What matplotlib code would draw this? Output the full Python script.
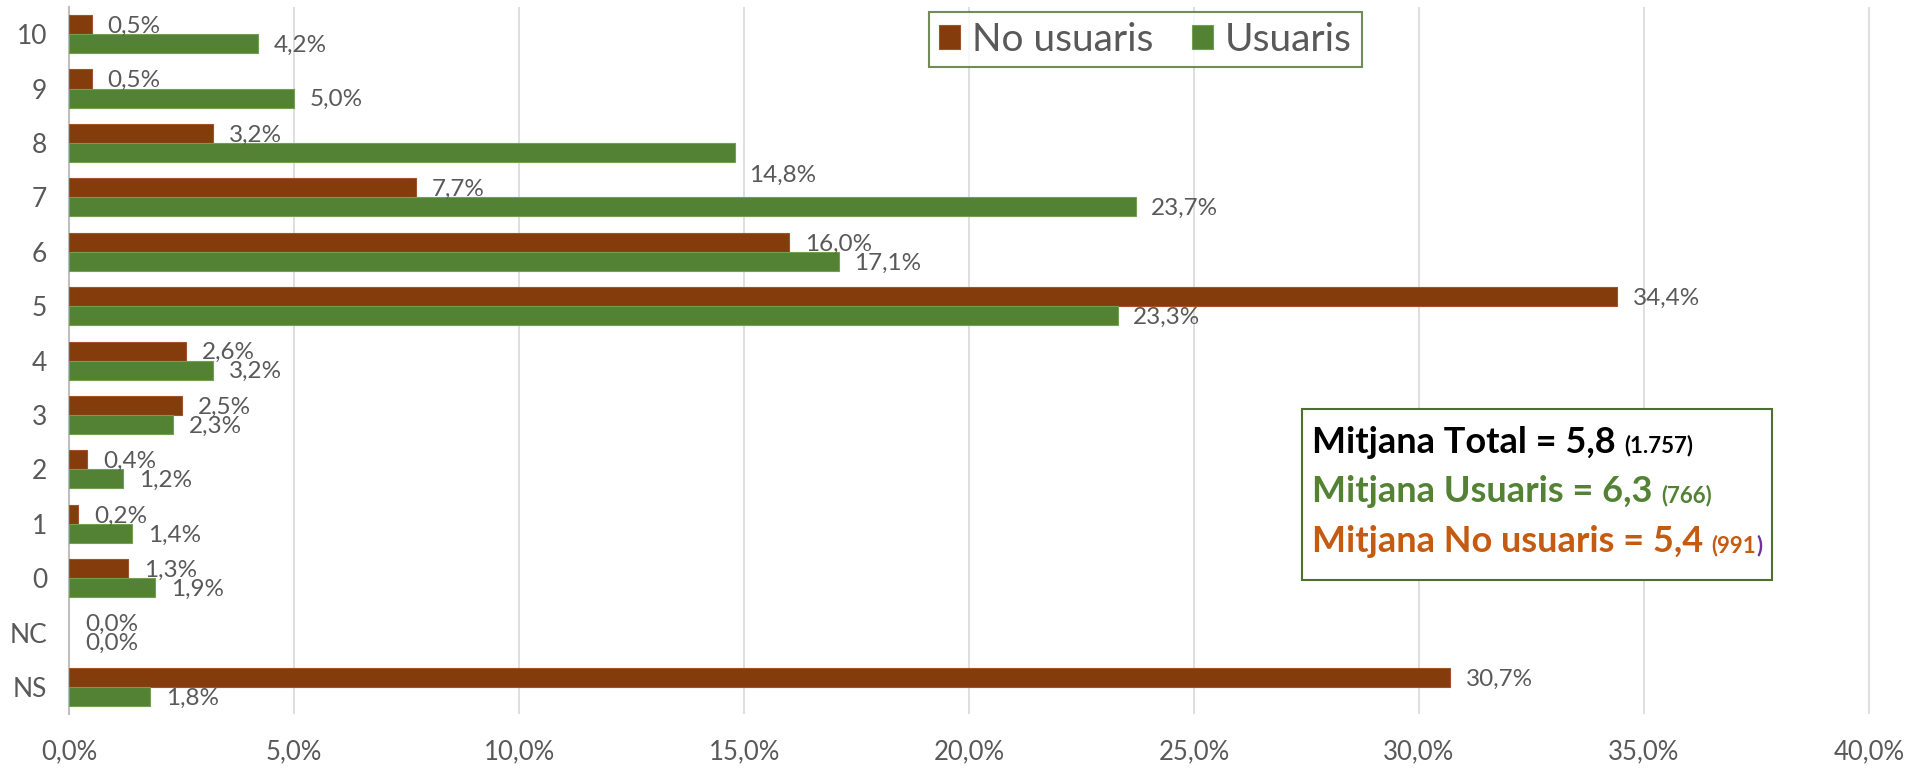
import numpy as np
import matplotlib.pyplot as plt
from matplotlib.offsetbox import TextArea, HPacker, VPacker, AnchoredOffsetbox, DrawingArea

categories = ['10', '9', '8', '7', '6', '5', '4', '3', '2', '1', '0', 'NC', 'NS']
no_usuaris = [0.5, 0.5, 3.2, 7.7, 16.0, 34.4, 2.6, 2.5, 0.4, 0.2, 1.3, 0.0, 30.7]
usuaris = [4.2, 5.0, 14.8, 23.7, 17.1, 23.3, 3.2, 2.3, 1.2, 1.4, 1.9, 0.0, 1.8]
x_ticks = [0, 5, 10, 15, 20, 25, 30, 35, 40]

mean_lines = [
    ('Mitjana Total = 5,8 ', '(1.757)', 'black'),
    ('Mitjana Usuaris = 6,3 ', '(766)', '#548235'),
    ('Mitjana No usuaris = 5,4 ', '(991', '#C55A11'),
]

brown = '#843C0C'
green = '#548235'
grey_txt = '#595959'

plt.rcParams['font.family'] = ['Lato', 'DejaVu Sans']

fig = plt.figure(figsize=(19.26, 7.68), dpi=100)
ax = fig.add_axes([0.036, 0.070, 0.946, 0.921])

y = np.arange(len(categories))
h = 0.35
lw_b = [0 if v == 0 else 0.8 for v in no_usuaris]
lw_g = [0 if v == 0 else 0.8 for v in usuaris]
ax.barh(y - h / 2, no_usuaris, height=h, color=brown, edgecolor='#a0522d', linewidth=lw_b, label='No usuaris', zorder=3)
ax.barh(y + h / 2, usuaris, height=h, color=green, edgecolor='#70a050', linewidth=lw_g, label='Usuaris', zorder=3)

def fmt(v):
    return f'{v:.1f}'.replace('.', ',') + '%'

for i, (a, b) in enumerate(zip(no_usuaris, usuaris)):
    ax.text(a + 0.35, i - h / 2 + 0.03, fmt(a), va='center', ha='left', fontsize=17.5, color=grey_txt, zorder=4)
    dy = 0.03
    dx = 0.35
    if categories[i] == '8':
        # this label sits below the bar in the original
        dy = 0.42
        dx = 0.3
    ax.text(b + dx, i + h / 2 + dy, fmt(b), va='center', ha='left', fontsize=17.5, color=grey_txt, zorder=4)

ax.set_ylim(len(categories) - 0.5, -0.5)
ax.set_xlim(0, 40.5)
ax.set_yticks(y)
ax.set_yticklabels(categories, fontsize=19, color=grey_txt)
ax.set_xticks(x_ticks)
ax.set_xticklabels([f'{t:.1f}'.replace('.', ',') + '%' for t in x_ticks], fontsize=18.5, color=grey_txt)
ax.tick_params(axis='x', length=0, pad=18)
ax.tick_params(axis='y', length=0, pad=16)
ax.grid(axis='x', color='#d9d9d9', linewidth=1.2, zorder=0)
for s in ['top', 'right', 'bottom']:
    ax.spines[s].set_visible(False)
ax.spines['left'].set_color('#bfbfbf')
ax.spines['left'].set_linewidth(1.5)

leg = ax.legend(loc='upper left', bbox_to_anchor=(929 / 1926, 1 - 12 / 768), bbox_transform=fig.transFigure,
                ncol=2, fontsize=28, frameon=True, fancybox=False, handlelength=0.55, handleheight=0.55,
                columnspacing=1.0, handletextpad=0.3, borderpad=0.25, borderaxespad=0)
leg.get_frame().set_edgecolor('#4f6f2f')
leg.get_frame().set_linewidth(1.5)
for t in leg.get_texts():
    t.set_color(grey_txt)

rows = []
for big, small, col in mean_lines:
    parts = [TextArea(big, textprops=dict(fontsize=26, fontweight='bold', color=col)),
             TextArea(small, textprops=dict(fontsize=16, fontweight='bold', color=col))]
    if small.startswith('(991'):
        parts.append(TextArea(')', textprops=dict(fontsize=16, fontweight='bold', color='#7030A0')))
    rows.append(HPacker(children=parts, align='baseline', pad=0, sep=0))
inner = VPacker(children=rows, align='left', pad=0, sep=12)
# extra blank space above and below the text, as in the original box
box = VPacker(children=[DrawingArea(1, 5), inner, DrawingArea(1, 9)], align='left', pad=0, sep=0)
anch = AnchoredOffsetbox(loc='upper left', child=box, pad=0.7, borderpad=0,
                         bbox_to_anchor=(1302 / 1926, 1 - 409 / 768), bbox_transform=fig.transFigure,
                         frameon=True)
anch.patch.set_edgecolor('#4f6f2f')
anch.patch.set_linewidth(1.5)
anch.patch.set_boxstyle('square', pad=0)
ax.add_artist(anch)

fig.savefig('out.png', dpi=100, facecolor='white')
